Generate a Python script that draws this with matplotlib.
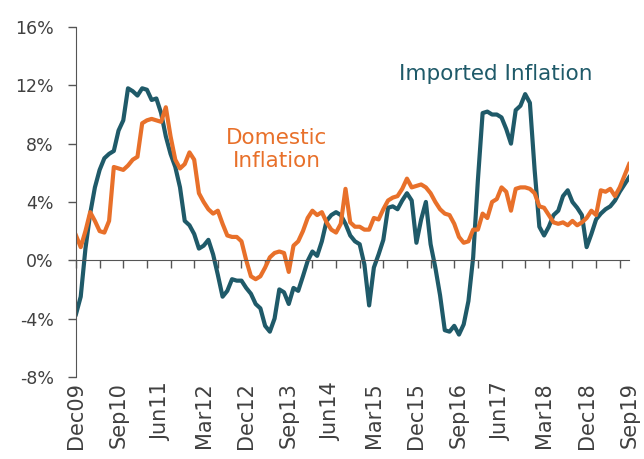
import matplotlib.pyplot as plt
import numpy as np

# monthly, Dec09 .. Sep19 (118 months), % y/y
imported = [
    -3.7, -2.5, 0.8, 3.2, 5.0, 6.2, 7.0, 7.3, 7.5, 8.9,
    9.6, 11.8, 11.6, 11.3, 11.8, 11.7, 11.0, 11.1, 10.1, 8.5,
    7.3, 6.4, 5.0, 2.7, 2.4, 1.8, 0.8, 1.0, 1.4, 0.4,
    -1.0, -2.5, -2.1, -1.3, -1.4, -1.4, -1.9, -2.3, -3.0, -3.3,
    -4.5, -4.9, -4.0, -2.0, -2.2, -3.0, -1.9, -2.1, -1.1, -0.05,
    0.6, 0.3, 1.3, 2.7, 3.1, 3.3, 3.1, 2.5, 1.7, 1.3,
    1.1, -0.3, -3.1, -0.5, 0.4, 1.4, 3.6, 3.7, 3.5, 4.1,
    4.6, 4.1, 1.2, 2.8, 4.0, 1.1, -0.5, -2.4, -4.8, -4.9,
    -4.5, -5.1, -4.4, -2.8, 0.2, 5.5, 10.1, 10.2, 10.0, 10.0,
    9.8, 9.0, 8.0, 10.3, 10.6, 11.4, 10.8, 6.2, 2.3, 1.7,
    2.3, 3.1, 3.4, 4.4, 4.8, 4.0, 3.6, 3.1, 0.9, 1.8,
    2.8, 3.2, 3.5, 3.7, 4.1, 4.7, 5.2, 5.7,
]
domestic = [
    1.7, 0.9, 2.0, 3.3, 2.7, 2.0, 1.9, 2.7, 6.4, 6.3,
    6.2, 6.5, 6.9, 7.1, 9.4, 9.6, 9.7, 9.6, 9.5, 10.5,
    8.5, 6.9, 6.3, 6.6, 7.4, 6.9, 4.6, 4.0, 3.5, 3.2,
    3.4, 2.5, 1.7, 1.6, 1.6, 1.3, 0.0, -1.1, -1.3, -1.1,
    -0.5, 0.2, 0.5, 0.6, 0.5, -0.8, 1.0, 1.3, 2.0, 2.9,
    3.4, 3.1, 3.3, 2.6, 2.1, 1.9, 2.5, 4.9, 2.6, 2.3,
    2.3, 2.1, 2.1, 2.9, 2.8, 3.5, 4.1, 4.3, 4.4, 4.9,
    5.6, 5.0, 5.1, 5.2, 5.0, 4.6, 4.0, 3.5, 3.2, 3.1,
    2.5, 1.6, 1.2, 1.3, 2.1, 2.1, 3.2, 2.9, 4.0, 4.2,
    5.0, 4.7, 3.4, 4.9, 5.0, 5.0, 4.9, 4.6, 3.7, 3.6,
    3.1, 2.6, 2.5, 2.6, 2.4, 2.7, 2.4, 2.6, 2.9, 3.4,
    3.1, 4.8, 4.7, 4.9, 4.4, 5.0, 5.8, 6.6,
]
x_labels = ['Dec09', 'Sep10', 'Jun11', 'Mar12', 'Dec12', 'Sep13', 'Jun14',
            'Mar15', 'Dec15', 'Sep16', 'Jun17', 'Mar18', 'Dec18', 'Sep19']
y_ticks = [-8, -4, 0, 4, 8, 12, 16]

teal = '#1f5a69'
orange = '#e8702a'
txt = '#404040'

months = np.arange(len(imported))

fig = plt.figure(figsize=(6.44, 4.59), dpi=100)
ax = fig.add_axes([0.118, 0.179, 0.859, 0.762])

ax.plot(months, imported, color=teal, lw=3, solid_joinstyle='round')
ax.plot(months, domestic, color=orange, lw=3, solid_joinstyle='round')

ax.set_xlim(0, len(months) - 1)
ax.set_ylim(-8, 16)

# y axis
ax.set_yticks(y_ticks)
ax.set_yticklabels(['%d%%' % v for v in y_ticks], fontsize=12.5, color=txt)
ax.tick_params(axis='y', direction='out', length=6, width=1, color='#555555', pad=10)

# x axis line sits at 0, small ticks every 5 months, labels at bottom
ax.spines['bottom'].set_position(('data', 0))
ax.spines['bottom'].set_color('#555555')
ax.spines['left'].set_color('#555555')
ax.spines['top'].set_visible(False)
ax.spines['right'].set_visible(False)
ax.set_xticks(np.arange(0, len(months), 5))
ax.set_xticklabels([])
ax.tick_params(axis='x', direction='out', length=6, width=1, color='#555555')

sec = ax.secondary_xaxis('bottom')
sec.set_xticks(np.arange(0, len(months), 9))
sec.set_xticklabels(x_labels, rotation=90, fontsize=15, color=txt)
sec.tick_params(length=0, pad=4)
sec.spines['bottom'].set_visible(False)

ax.text(88.7, 12.8, 'Imported Inflation', color=teal, fontsize=15.5,
        ha='center', va='center')
ax.text(42.5, 7.6, 'Domestic\nInflation', color=orange, fontsize=15.5,
        ha='center', va='center', linespacing=1.2)

fig.savefig('out.png', dpi=100)
